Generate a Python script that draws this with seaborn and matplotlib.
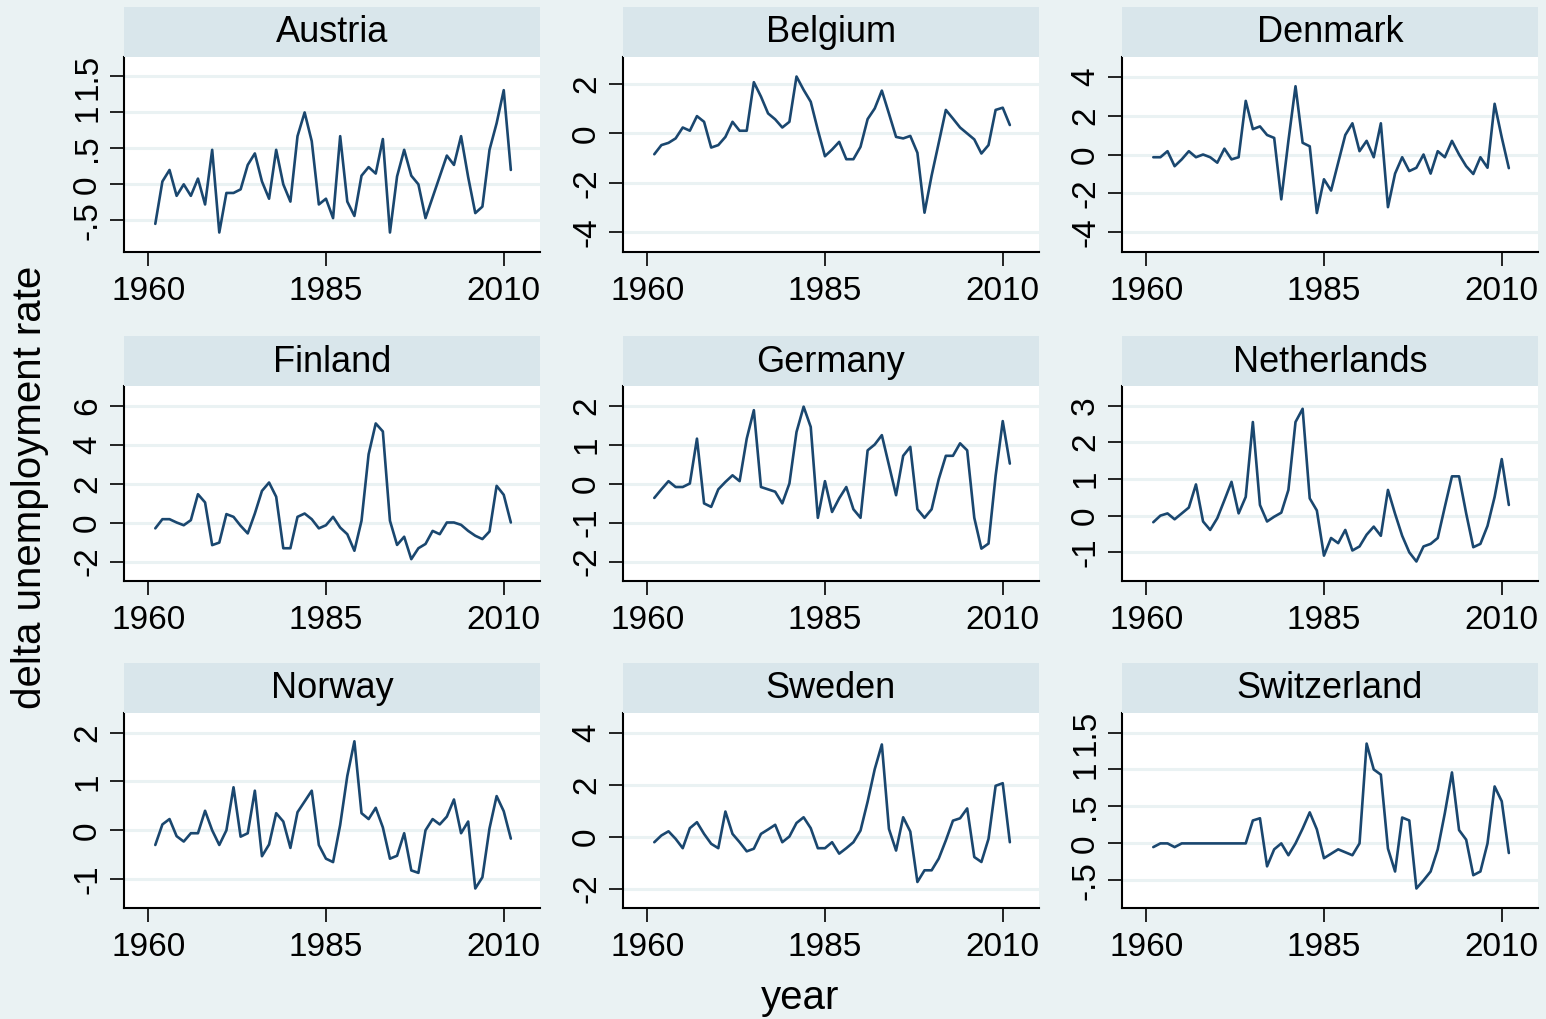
import matplotlib
matplotlib.use("Agg")
import pandas as pd
import matplotlib.pyplot as plt
import seaborn as sns

# yearly change of the unemployment rate, 1961-2011
years = list(range(1961, 2012))

austria = [-0.55, 0.04, 0.2, -0.16, 0, -0.16, 0.08, -0.28, 0.48, -0.67,
           -0.12, -0.12, -0.07, 0.27, 0.43, 0.04, -0.2, 0.48, 0, -0.24,
           0.67, 1.0, 0.6, -0.28, -0.2, -0.47, 0.67, -0.24, -0.44, 0.12,
           0.24, 0.15, 0.63, -0.67, 0.11, 0.48, 0.12, 0, -0.47, -0.18,
           0.11, 0.4, 0.27, 0.67, 0.1, -0.4, -0.31, 0.48, 0.85, 1.31, 0.2]
belgium = [-0.84, -0.47, -0.38, -0.2, 0.24, 0.11, 0.7, 0.47, -0.57, -0.47,
           -0.14, 0.47, 0.11, 0.11, 2.07, 1.49, 0.81, 0.57, 0.24, 0.47,
           2.3, 1.76, 1.28, 0.14, -0.92, -0.65, -0.34, -1.04, -1.04, -0.54,
           0.58, 1.01, 1.73, 0.8, -0.14, -0.2, -0.1, -0.78, -3.2, -1.7,
           -0.38, 0.95, 0.6, 0.24, 0, -0.24, -0.81, -0.47, 0.95, 1.04, 0.34]
denmark = [-0.14, -0.14, 0.17, -0.6, -0.25, 0.17, -0.14, 0, -0.14, -0.42,
           0.3, -0.25, -0.14, 2.75, 1.3, 1.44, 1.0, 0.85, -2.3, 0.7,
           3.5, 0.6, 0.42, -3.0, -1.27, -1.85, -0.42, 1.0, 1.6, 0.17,
           0.7, -0.14, 1.6, -2.7, -0.98, -0.14, -0.85, -0.68, 0, -0.98,
           0.17, -0.14, 0.7, 0, -0.6, -1.0, -0.14, -0.68, 2.6, 0.88, -0.7]
finland = [-0.3, 0.17, 0.17, 0, -0.14, 0.12, 1.45, 1.03, -1.16, -1.03,
           0.43, 0.29, -0.17, -0.56, 0.46, 1.62, 2.05, 1.32, -1.32, -1.32,
           0.29, 0.46, 0.17, -0.3, -0.14, 0.29, -0.26, -0.6, -1.45, 0.09,
           3.5, 5.08, 4.67, 0.09, -1.15, -0.73, -1.88, -1.32, -1.1, -0.43,
           -0.6, 0, 0, -0.12, -0.43, -0.68, -0.85, -0.46, 1.88, 1.42, 0]
germany = [-0.37, -0.15, 0.06, -0.09, -0.09, 0, 1.15, -0.51, -0.6, -0.15,
           0.04, 0.21, 0.06, 1.15, 1.88, -0.09, -0.15, -0.21, -0.51, 0,
           1.32, 1.97, 1.45, -0.88, 0.06, -0.73, -0.38, -0.09, -0.66, -0.88,
           0.85, 1.0, 1.24, 0.47, -0.3, 0.71, 0.94, -0.66, -0.88, -0.66,
           0.11, 0.71, 0.71, 1.03, 0.85, -0.88, -1.67, -1.54, 0.2, 1.6, 0.51]
netherlands = [-0.18, 0, 0.06, -0.1, 0.06, 0.22, 0.85, -0.16, -0.39, -0.07,
               0.42, 0.92, 0.06, 0.51, 2.55, 0.29, -0.16, -0.03, 0.08, 0.7,
               2.55, 2.91, 0.47, 0.14, -1.09, -0.61, -0.75, -0.39, -0.95, -0.84,
               -0.52, -0.3, -0.55, 0.7, 0.05, -0.55, -1.0, -1.25, -0.84, -0.77,
               -0.61, 0.24, 1.07, 1.07, 0.06, -0.86, -0.77, -0.28, 0.51, 1.54, 0.29]
norway = [-0.3, 0.12, 0.23, -0.12, -0.23, -0.06, -0.06, 0.4, 0, -0.3,
          0, 0.88, -0.13, -0.06, 0.81, -0.53, -0.29, 0.35, 0.18, -0.36,
          0.37, 0.59, 0.81, -0.3, -0.58, -0.65, 0.11, 1.11, 1.82, 0.35,
          0.23, 0.46, 0.06, -0.58, -0.52, -0.06, -0.82, -0.87, 0, 0.23,
          0.12, 0.28, 0.63, -0.06, 0.18, -1.19, -0.96, 0.04, 0.7, 0.39, -0.17]
sweden = [-0.22, 0.04, 0.2, -0.09, -0.45, 0.32, 0.55, 0.1, -0.28, -0.45,
          0.96, 0.1, -0.22, -0.57, -0.47, 0.1, 0.27, 0.45, -0.22, 0,
          0.52, 0.74, 0.32, -0.45, -0.45, -0.22, -0.66, -0.45, -0.22, 0.23,
          1.34, 2.59, 3.54, 0.29, -0.54, 0.74, 0.19, -1.75, -1.3, -1.3,
          -0.85, -0.15, 0.61, 0.7, 1.08, -0.79, -0.98, -0.09, 1.95, 2.05, -0.22]
switzerland = [-0.05, 0, 0, -0.05, 0, 0, 0, 0, 0, 0,
               0, 0, 0, 0, 0.31, 0.34, -0.31, -0.08, 0, -0.16,
               0, 0.2, 0.42, 0.19, -0.2, -0.14, -0.08, -0.12, -0.16, 0,
               1.35, 1.0, 0.93, -0.07, -0.38, 0.35, 0.31, -0.61, -0.5, -0.38,
               -0.08, 0.41, 0.96, 0.18, 0.05, -0.43, -0.38, 0, 0.77, 0.57, -0.13]

countries = ["Austria", "Belgium", "Denmark", "Finland", "Germany",
             "Netherlands", "Norway", "Sweden", "Switzerland"]
series = [austria, belgium, denmark, finland, germany,
          netherlands, norway, sweden, switzerland]
yticks = [[-0.5, 0, 0.5, 1, 1.5], [-4, -2, 0, 2], [-4, -2, 0, 2, 4],
          [-2, 0, 2, 4, 6], [-2, -1, 0, 1, 2], [-1, 0, 1, 2, 3],
          [-1, 0, 1, 2], [-2, 0, 2, 4], [-0.5, 0, 0.5, 1, 1.5]]
xticks = [1960, 1985, 2010]

df = pd.concat([pd.DataFrame({"country": c, "year": years, "du": v})
                for c, v in zip(countries, series)])


def stata_fmt(v):
    if float(v).is_integer():
        return str(int(v))
    return str(v).replace("0.", ".")


sns.set_style("white")
plt.rcParams["font.family"] = ["Liberation Sans", "DejaVu Sans"]
plt.rcParams["text.color"] = "black"
plt.rcParams["xtick.color"] = "black"
plt.rcParams["ytick.color"] = "black"

BG = "#EAF2F3"
STRIP = "#D9E6EB"
LINE = "#1A476F"

W, H = 1546, 1019
fig = plt.figure(figsize=(W / 100, H / 100), dpi=100, facecolor=BG)

col_left = [124, 623, 1122]
row_top = [57, 386, 713]
aw, ah, sh = 416, 195, 50

for i, c in enumerate(countries):
    r, k = divmod(i, 3)
    left, top = col_left[k], row_top[r]
    ax = fig.add_axes([left / W, 1 - (top + ah) / H, aw / W, ah / H])
    sax = fig.add_axes([left / W, 1 - top / H, aw / W, sh / H])
    sax.set_facecolor(STRIP)
    sax.set_xticks([])
    sax.set_yticks([])
    for s in sax.spines.values():
        s.set_visible(False)
    sax.text(0.5, 0.48, c, ha="center", va="center", fontsize=26,
             color="black", transform=sax.transAxes)

    d = df[df["country"] == c]
    t = yticks[i]
    for yv in t:
        ax.axhline(yv, color=BG, lw=2.2, zorder=0)
    sns.lineplot(data=d, x="year", y="du", ax=ax, color=LINE, linewidth=1.9)

    lo = min(d["du"].min(), t[0])
    hi = max(d["du"].max(), t[-1])
    pad = 0.125 * (hi - lo)
    ax.set_ylim(lo - pad, hi + pad)
    ax.set_xlim(1956.6, 2015.1)
    ax.set_yticks(t)
    ax.set_yticklabels([stata_fmt(v) for v in t], rotation=90, va="center")
    ax.set_xticks(xticks)
    ax.set_xticklabels([str(x) for x in xticks])
    ax.set_xlabel("")
    ax.set_ylabel("")
    ax.set_facecolor("white")
    ax.spines["top"].set_visible(False)
    ax.spines["right"].set_visible(False)
    for s in ("left", "bottom"):
        ax.spines[s].set_color("black")
        ax.spines[s].set_linewidth(1.5)
    ax.tick_params(axis="both", direction="out", length=10, width=1.2,
                   color="black", labelcolor="black", labelsize=24,
                   left=True, bottom=True)
    ax.tick_params(axis="x", pad=7)
    ax.tick_params(axis="y", pad=5)

fig.text(30 / W, 1 - 487 / H, "delta unemployment rate", rotation=90,
         ha="center", va="center", fontsize=29, color="black")
fig.text(800 / W, 1 - 998 / H, "year", ha="center", va="center",
         fontsize=29, color="black")

fig.savefig("out.png", dpi=100, facecolor=BG)
